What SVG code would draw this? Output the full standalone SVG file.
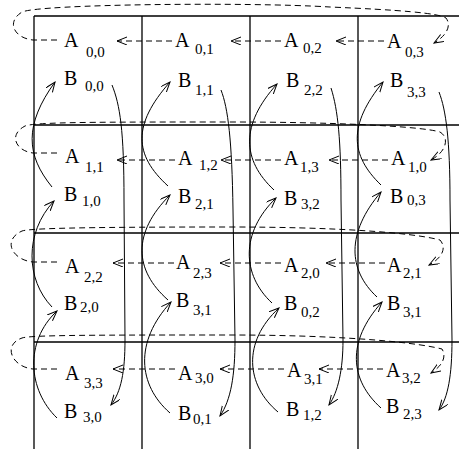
<svg xmlns="http://www.w3.org/2000/svg" width="459" height="449" viewBox="0 0 459 449">
<defs>
<style>
.m{font-family:"Liberation Serif","Times New Roman",serif;font-size:20px;fill:#000}
.s{font-size:15px}
.grid{stroke:#000;stroke-width:1.3;fill:none}
.c{stroke:#000;stroke-width:1;fill:none;marker-end:url(#ah)}
.d{stroke:#000;stroke-width:1;fill:none;stroke-dasharray:6,4;marker-end:url(#ah)}
</style>
<marker id="ah" markerUnits="userSpaceOnUse" markerWidth="12" markerHeight="10" refX="10" refY="4" orient="auto">
<path d="M0,0 L10,4 L0,8" fill="none" stroke="#000" stroke-width="1" stroke-dasharray="none"/>
</marker>
</defs>
<rect width="459" height="449" fill="#fff"/>
<g id="grid" class="grid">
<path d="M34 16H459M34 125H459M34 233H459M34 342H459"/>
<path d="M34 16V449M142 16V449M250 16V449M358 16V449"/>
</g>
<g id="connectors">
<!-- A shifts (dashed) -->
<path class="d" d="M172 41H117"/>
<path class="d" d="M281 41H231"/>
<path class="d" d="M384 41H336"/>
<path class="d" d="M57 40H33C14 38 6 22 22 12C40 4 250 2 330 7C400 10 438 13 446 18C452 26 446 36 434 43"/>
<path class="d" d="M175 160H117"/>
<path class="d" d="M281 160H221"/>
<path class="d" d="M388 160H329"/>
<path class="d" d="M57 153H33C16 151 8 135 25 126C35 122 100 122 230 122C330 122 420 126 440 132C450 138 446 152 431 160"/>
<path class="d" d="M174 263H113"/>
<path class="d" d="M281 263H220"/>
<path class="d" d="M385 263H326"/>
<path class="d" d="M57 262H33C12 260 2 240 22 231C30 228 100 227 230 227C330 227 410 232 440 240C447 248 442 258 429 265"/>
<path class="d" d="M175 369H113"/>
<path class="d" d="M284 369H220"/>
<path class="d" d="M383 369H319"/>
<path class="d" d="M57 369H33C12 367 2 345 22 338C30 335 100 335 230 335C330 335 410 341 442 349C447 357 442 366 431 373"/>
<!-- B shifts up (solid) -->
<path class="c" d="M52 187C26 155 24 125 55 82"/>
<path class="c" d="M52 307C26 280 24 233 54 201"/>
<path class="c" d="M57 418C28 390 24 342 57 311"/>
<path class="c" d="M168 186C134 155 132 125 170 82"/>
<path class="c" d="M168 300C134 270 132 233 170 195"/>
<path class="c" d="M170 413C138 385 134 342 171 302"/>
<path class="c" d="M274 190C242 160 240 125 277 84"/>
<path class="c" d="M272 303C242 275 240 233 276 198"/>
<path class="c" d="M278 412C246 385 242 342 279 308"/>
<path class="c" d="M381 185C350 155 348 125 383 82"/>
<path class="c" d="M377 297C348 270 346 233 381 192"/>
<path class="c" d="M381 408C350 380 346 342 382 302"/>
<!-- B wrap down (solid) -->
<path class="c" d="M112 85C120 105 124 130 124 200L125 340C125 372 121 392 111 405"/>
<path class="c" d="M221 90C228 108 232 140 233 210L235 340C235 375 231 400 220 416"/>
<path class="c" d="M331 88C338 110 341 140 341 200L343 340C343 370 338 392 329 405"/>
<path class="c" d="M439 92C446 110 450 140 450 200L452 340C452 375 448 398 439 410"/>
</g>
<g id="A00"><text class="m" x="64" y="47">A<tspan class="s" x="86" y="57">0,0</tspan></text></g>
<g id="A01"><text class="m" x="175" y="47">A<tspan class="s" x="195" y="54">0,1</tspan></text></g>
<g id="A02"><text class="m" x="284" y="47">A<tspan class="s" x="303" y="53">0,2</tspan></text></g>
<g id="A03"><text class="m" x="387" y="48">A<tspan class="s" x="405" y="57">0,3</tspan></text></g>
<g id="B00"><text class="m" x="64" y="85">B<tspan class="s" x="85" y="91">0,0</tspan></text></g>
<g id="B11"><text class="m" x="178" y="87">B<tspan class="s" x="195" y="95">1,1</tspan></text></g>
<g id="B22"><text class="m" x="286" y="87">B<tspan class="s" x="304" y="95">2,2</tspan></text></g>
<g id="B33"><text class="m" x="390" y="87">B<tspan class="s" x="407" y="97">3,3</tspan></text></g>
<g id="A11"><text class="m" x="65" y="163">A<tspan class="s" x="85" y="172">1,1</tspan></text></g>
<g id="A12"><text class="m" x="178" y="165">A<tspan class="s" x="199" y="170">1,2</tspan></text></g>
<g id="A13"><text class="m" x="284" y="165">A<tspan class="s" x="300" y="172">1,3</tspan></text></g>
<g id="A10"><text class="m" x="391" y="165">A<tspan class="s" x="408" y="172">1,0</tspan></text></g>
<g id="B10"><text class="m" x="64" y="201">B<tspan class="s" x="82" y="206">1,0</tspan></text></g>
<g id="B21"><text class="m" x="178" y="203">B<tspan class="s" x="195" y="209">2,1</tspan></text></g>
<g id="B32"><text class="m" x="284" y="205">B<tspan class="s" x="301" y="209">3,2</tspan></text></g>
<g id="B03"><text class="m" x="390" y="203">B<tspan class="s" x="407" y="205">0,3</tspan></text></g>
<g id="A22"><text class="m" x="65" y="273">A<tspan class="s" x="84" y="282">2,2</tspan></text></g>
<g id="A23"><text class="m" x="176" y="269">A<tspan class="s" x="193" y="278">2,3</tspan></text></g>
<g id="A20"><text class="m" x="284" y="272">A<tspan class="s" x="301" y="278">2,0</tspan></text></g>
<g id="A21"><text class="m" x="387" y="272">A<tspan class="s" x="403" y="278">2,1</tspan></text></g>
<g id="B20"><text class="m" x="64" y="310">B<tspan class="s" x="80" y="312">2,0</tspan></text></g>
<g id="B31a"><text class="m" x="176" y="307">B<tspan class="s" x="193" y="315">3,1</tspan></text></g>
<g id="B02"><text class="m" x="284" y="310">B<tspan class="s" x="301" y="317">0,2</tspan></text></g>
<g id="B31b"><text class="m" x="387" y="310">B<tspan class="s" x="403" y="317">3,1</tspan></text></g>
<g id="A33"><text class="m" x="65" y="380">A<tspan class="s" x="84" y="388">3,3</tspan></text></g>
<g id="A30"><text class="m" x="178" y="380">A<tspan class="s" x="195" y="383">3,0</tspan></text></g>
<g id="A31"><text class="m" x="287" y="377">A<tspan class="s" x="304" y="384">3,1</tspan></text></g>
<g id="A32"><text class="m" x="386" y="377">A<tspan class="s" x="402" y="383">3,2</tspan></text></g>
<g id="B30"><text class="m" x="64" y="418">B<tspan class="s" x="83" y="422">3,0</tspan></text></g>
<g id="B01"><text class="m" x="178" y="420">B<tspan class="s" x="193" y="424">0,1</tspan></text></g>
<g id="B12"><text class="m" x="286" y="416">B<tspan class="s" x="303" y="420">1,2</tspan></text></g>
<g id="B23"><text class="m" x="386" y="413">B<tspan class="s" x="403" y="419">2,3</tspan></text></g>
</svg>
